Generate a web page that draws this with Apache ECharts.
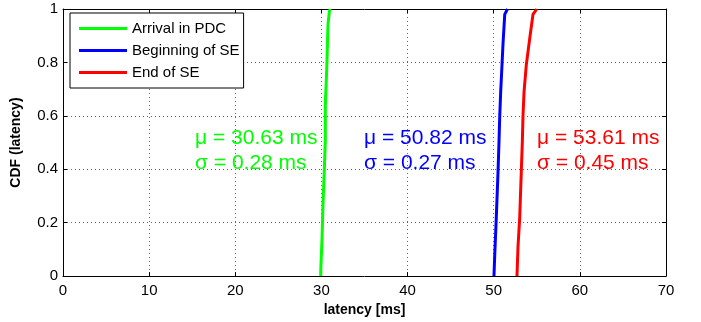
<!DOCTYPE html>
<html>
<head>
<meta charset="utf-8">
<script src="https://cdn.jsdelivr.net/npm/echarts@6/dist/echarts.min.js"></script>
<style>
  html, body { margin: 0; padding: 0; background: #fff; }
  #chart { width: 701px; height: 322px; }
</style>
</head>
<body>
<div id="chart"></div>
<script>
  // CDF points: [latency ms, cdf]
  const arrivalPdc = [[29.92, 0], [29.92, 0.02], [30.07, 0.14], [30.18, 0.27], [30.33, 0.39], [30.45, 0.51],
    [30.45, 0.64], [30.61, 0.77], [30.76, 0.94], [30.92, 0.99], [31.0, 1]]
  const beginningSe = [[50.03, 0], [50.12, 0.08], [50.30, 0.22], [50.50, 0.39], [50.62, 0.51], [50.70, 0.60],
    [50.81, 0.69], [50.96, 0.79], [51.08, 0.87], [51.28, 0.98], [51.6, 1]]
  const endSe = [[52.7, 0], [52.82, 0.11], [53.02, 0.22], [53.2, 0.39], [53.32, 0.50], [53.40, 0.60],
    [53.52, 0.69], [53.78, 0.79], [54.18, 0.89], [54.56, 0.98], [55.0, 1]]

  const seriesNames = ['Arrival in PDC', 'Beginning of SE', 'End of SE']
  const seriesColors = ['#00ff00', '#0000ff', '#ff0000']
  const muLabels = ['μ = 30.63 ms', 'μ = 50.82 ms', 'μ = 53.61 ms']
  const sigmaLabels = ['σ = 0.28 ms', 'σ = 0.27 ms', 'σ = 0.45 ms']
  const xTicks = [0, 10, 20, 30, 40, 50, 60, 70]
  const yTicks = [0, 0.2, 0.4, 0.6, 0.8, 1]

  const font = 'Liberation Sans, Arial, sans-serif'
  const chart = echarts.init(document.getElementById('chart'))

  const dotted = { show: true, lineStyle: { color: '#666', type: [1, 3], width: 1 } }
  const tickIn = { show: true, inside: true, length: 4, lineStyle: { color: '#000' } }

  const xBase = {
    type: 'value', min: xTicks[0], max: xTicks[xTicks.length - 1], interval: 10,
    axisLine: { show: true, onZero: false, lineStyle: { color: '#000', width: 1 } },
    axisTick: tickIn
  }
  const yBase = {
    type: 'value', min: yTicks[0], max: yTicks[yTicks.length - 1], interval: 0.2,
    axisLine: { show: true, onZero: false, lineStyle: { color: '#000', width: 1 } },
    axisTick: tickIn
  }

  // where the mu / sigma annotations sit (px)
  const textBlocks = [
    { left: 195, top: 126 },
    { left: 364, top: 126 },
    { left: 537, top: 126 }
  ]

  chart.setOption({
    animation: false,
    textStyle: { fontFamily: font },
    grid: { left: 63, right: 35, top: 9, bottom: 43 },
    legend: {
      orient: 'vertical',
      left: 70,
      top: 13,
      data: seriesNames,
      itemWidth: 48,
      itemHeight: 3,
      itemGap: 7,
      padding: [8, 4, 8, 9],
      backgroundColor: '#fff',
      borderColor: '#000',
      borderWidth: 1,
      borderRadius: 0,
      icon: 'rect',
      textStyle: { fontSize: 15, color: '#000', fontFamily: font }
    },
    xAxis: [
      Object.assign({}, xBase, {
        position: 'bottom',
        name: 'latency [ms]',
        nameLocation: 'middle',
        nameGap: 25,
        nameTextStyle: { fontSize: 14, fontWeight: 'bold', color: '#000' },
        axisLabel: { fontSize: 15, color: '#000', margin: 7 },
        splitLine: dotted
      }),
      Object.assign({}, xBase, { position: 'top', axisLabel: { show: false }, splitLine: { show: false } })
    ],
    yAxis: [
      Object.assign({}, yBase, {
        position: 'left',
        name: 'CDF (latency)',
        nameLocation: 'middle',
        nameGap: 40,
        nameTextStyle: { fontSize: 14, fontWeight: 'bold', color: '#000' },
        axisLabel: { fontSize: 15, color: '#000', margin: 5, formatter: v => String(+v.toFixed(1)) },
        splitLine: dotted
      }),
      Object.assign({}, yBase, { position: 'right', axisLabel: { show: false }, splitLine: { show: false } })
    ],
    series: [arrivalPdc, beginningSe, endSe].map((d, i) => ({
      name: seriesNames[i],
      type: 'line',
      data: d,
      showSymbol: false,
      color: seriesColors[i],
      lineStyle: { width: 3, color: seriesColors[i] },
      z: 3
    })),
    graphic: textBlocks.map((p, i) => ({
      type: 'text',
      left: p.left,
      top: p.top,
      z: 10,
      style: {
        text: muLabels[i] + '\n' + sigmaLabels[i],
        fill: seriesColors[i],
        font: '21px ' + font,
        lineHeight: 25
      }
    }))
  })
</script>
</body>
</html>
